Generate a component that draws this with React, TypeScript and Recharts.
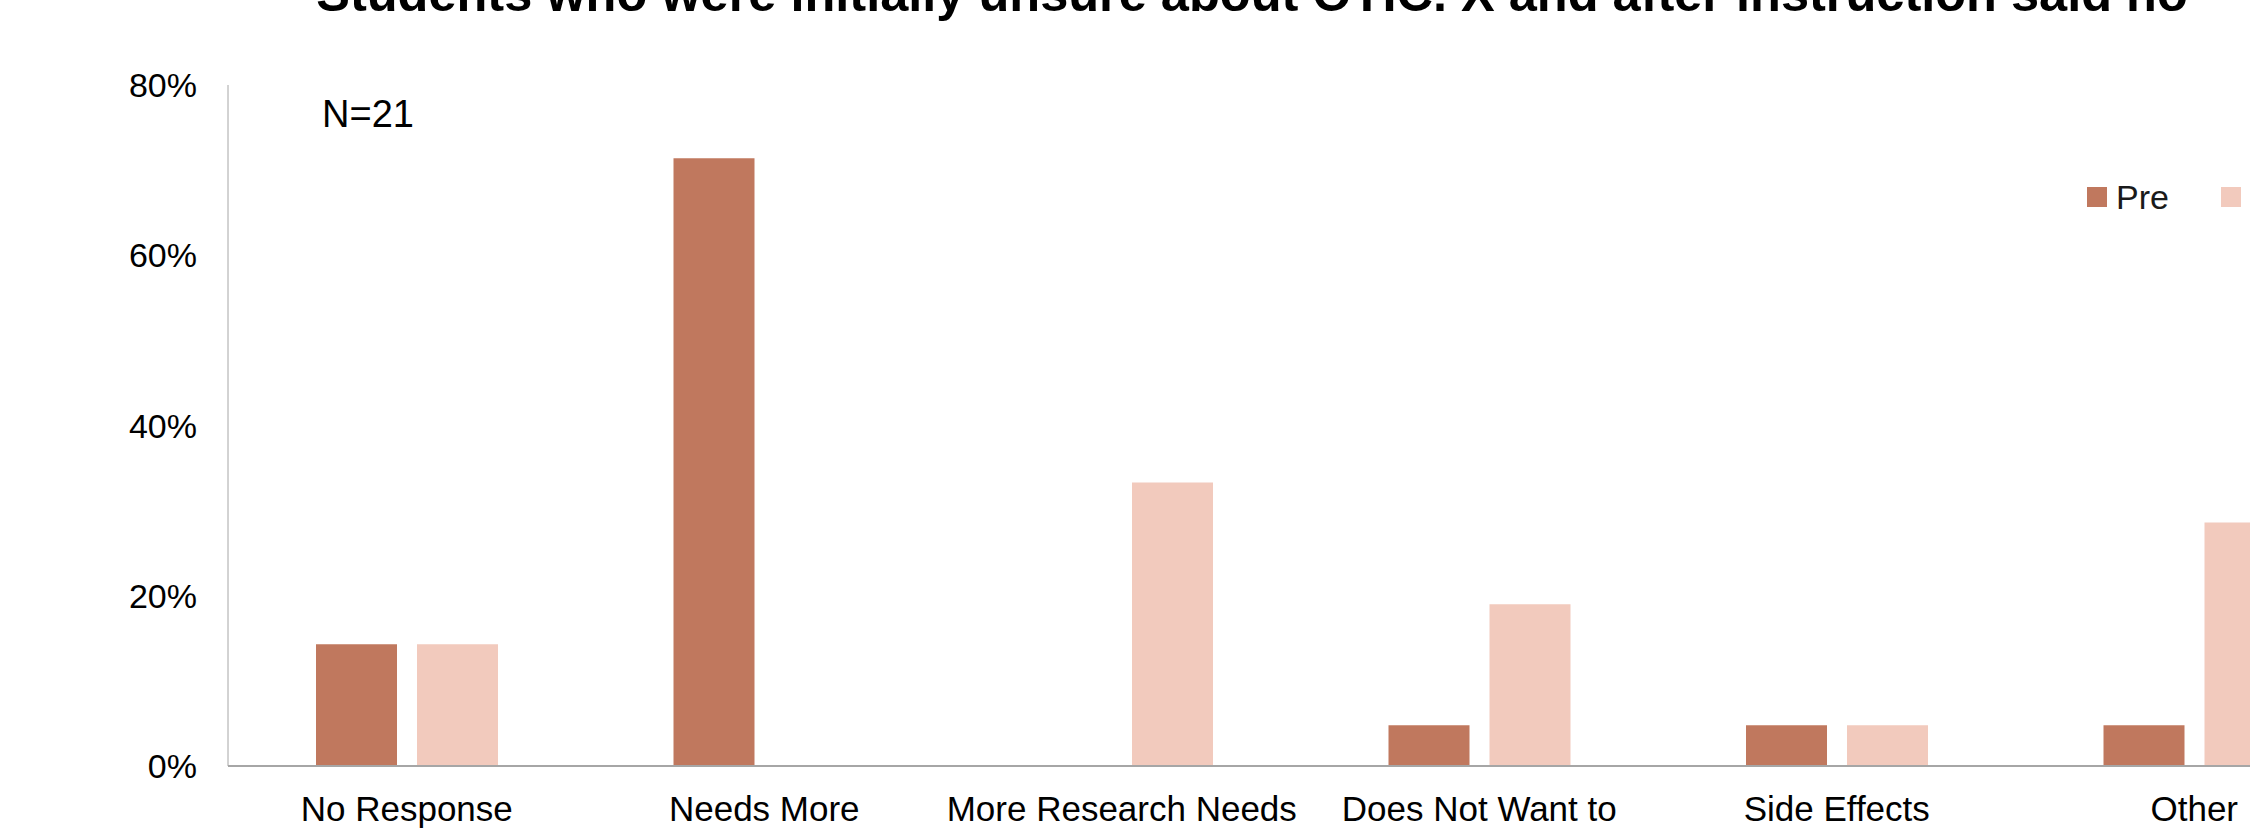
import { BarChart, Bar, XAxis, YAxis, Legend } from 'recharts';

// Reasons given, pre vs post instruction (share of respondents, %)
const categories = ['No Response', 'Needs More', 'More Research Needs', 'Does Not Want to', 'Side Effects', 'Other'];
const preValues = [14.3, 71.4, 0, 4.8, 4.8, 4.8];
const postValues = [14.3, 0, 33.3, 19.0, 4.8, 28.6];
const yTicks = [0, 20, 40, 60, 80];
const seriesOrder = ['Pre', 'Post'];

const PRE_COLOR = '#C0785E';
const POST_COLOR = '#F2CABD';
const FONT = '"Liberation Sans", Arial, sans-serif';

const chartData = categories.map((name, i) => ({
  name,
  pre: preValues[i],
  post: postValues[i],
}));

const LegendContent = ({ payload }: any) => {
  const items = [...(payload || [])].sort(
    (a: any, b: any) => seriesOrder.indexOf(a.value) - seriesOrder.indexOf(b.value)
  );
  return (
    <div style={{ display: 'flex', alignItems: 'center', fontFamily: FONT, fontSize: 34, lineHeight: '34px', color: '#1a1a1a' }}>
      {items.map((entry: any, index: number) => (
        <div key={`legend-${index}`} style={{ display: 'flex', alignItems: 'center', marginRight: 52, whiteSpace: 'nowrap' }}>
          <span style={{ width: 20, height: 20, background: entry.color, display: 'inline-block', marginRight: 9 }} />
          <span>{entry.value}</span>
        </div>
      ))}
    </div>
  );
};

export default function App() {
  return (
    <div style={{ position: 'fixed', left: 0, top: 0, width: 2250, height: 834, overflow: 'hidden', background: '#fff' }}>
      <div
        style={{
          position: 'absolute',
          top: -31,
          left: 0,
          width: 2504,
          textAlign: 'center',
          fontFamily: FONT,
          fontWeight: 'bold',
          fontSize: 50.5,
          lineHeight: '50px',
          color: '#000',
          whiteSpace: 'nowrap',
        }}
      >
        Students who were initially unsure about OTIC. X and after instruction said no
      </div>
      <div
        style={{
          position: 'absolute',
          top: 95,
          left: 322,
          fontFamily: FONT,
          fontSize: 38,
          lineHeight: '38px',
          color: '#000',
        }}
      >
        N=21
      </div>
      <BarChart
        width={2450}
        height={834}
        data={chartData}
        margin={{ top: 85, right: 77, bottom: 38, left: 108 }}
        barSize={81}
        barGap={20}
      >
        <XAxis
          dataKey="name"
          height={30}
          axisLine={{ stroke: '#a6a6a6', strokeWidth: 2 }}
          tickLine={false}
          tickSize={0}
          tickMargin={30}
          interval={0}
          tick={{ fill: '#000', fontSize: 35, fontFamily: FONT }}
        />
        <YAxis
          width={120}
          domain={[0, 80]}
          ticks={yTicks}
          interval={0}
          tickFormatter={(v: number) => `${v}%`}
          axisLine={{ stroke: '#a6a6a6', strokeWidth: 1 }}
          tickLine={false}
          tickSize={0}
          tickMargin={31}
          tick={{ fill: '#000', fontSize: 34, fontFamily: FONT }}
        />
        <Legend
          layout="horizontal"
          verticalAlign="middle"
          align="center"
          content={<LegendContent />}
          wrapperStyle={{ left: 2087, top: 180, width: 'auto' }}
        />
        <Bar dataKey="pre" name="Pre" fill={PRE_COLOR} isAnimationActive={false} />
        <Bar dataKey="post" name="Post" fill={POST_COLOR} isAnimationActive={false} />
      </BarChart>
    </div>
  );
}
